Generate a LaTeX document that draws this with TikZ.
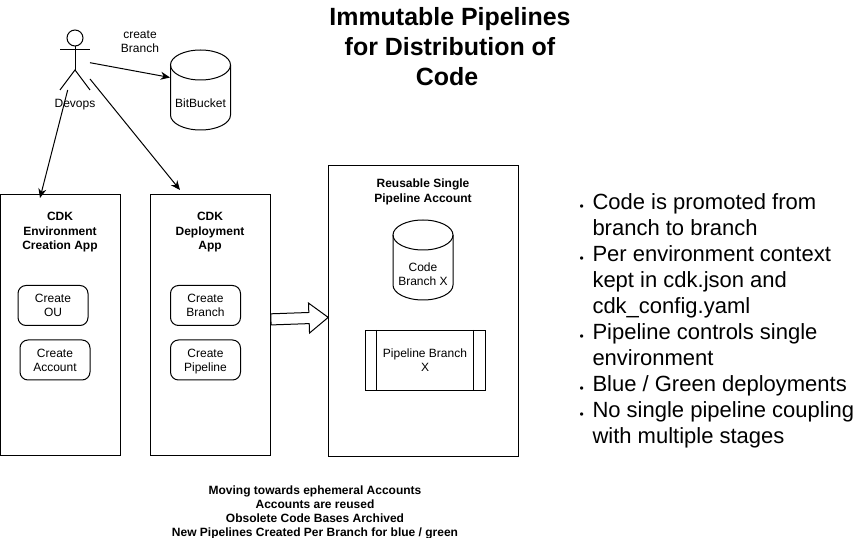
\documentclass[tikz,border=0pt]{standalone}
\usepackage{fontspec}
\setmainfont{Liberation Sans}
\usetikzlibrary{arrows.meta,shapes.arrows}

\begin{document}
\begin{tikzpicture}[
    x=0.75pt, y=-0.75pt, line width=0.75pt,
    app box/.style={draw, rectangle, inner sep=0pt},
    task box/.style={draw, rectangle, rounded corners=6pt, inner sep=0pt, minimum width=52.5pt, minimum height=30pt, align=center, font=\fontsize{9}{10.5}\selectfont},
    box title/.style={font=\fontsize{9}{10.9}\selectfont\bfseries, align=center},
    small text/.style={font=\fontsize{9}{10.5}\selectfont, align=center},
    flow/.style={-{Stealth[length=7pt,width=6pt]}},
    store/.pic={
        \draw (0,-25) ellipse (30 and 15);
        \draw (-30,-25) -- (-30,25) arc[start angle=180, end angle=0, x radius=30, y radius=15] -- (30,-25);
    }
]
\useasboundingbox (0,0) rectangle (861,538);

% Title
\node[font=\fontsize{18.7}{22.2}\selectfont\bfseries, align=center] (title) at (450,46.5) {Immutable Pipelines\\for Distribution of\\Code\hspace{4.5pt}\null};

% Actor
\draw (75,38) circle (8);
\draw (75,46) -- (75,70) (60,50) -- (90,50);
\draw (60,90) -- (75,70) -- (90,90);
\node[small text] (devops) at (75,104.5) {Devops};
\coordinate (actor top) at (90,62.7);
\coordinate (actor mid) at (90,79);
\coordinate (actor low) at (67.7,90);

\node[small text] (create branch) at (140,42) {create\\Branch};

% Repository
\pic at (200.5,90) {store};
\node[small text] (bitbucket) at (200.5,103) {BitBucket};

% Environment app
\node[app box, minimum width=90pt, minimum height=195pt] (env app) at (60.5,325) {};
\node[box title] (env title) at (60,232.5) {CDK\\Environment\\Creation App};
\node[task box] (create ou) at (53,305.5) {Create\\OU};
\node[task box] (create account) at (55,360) {Create\\Account};

% Deployment app
\node[app box, minimum width=90pt, minimum height=195pt] (deploy app) at (210.5,325) {};
\node[box title] (deploy title) at (210,232.5) {CDK\\Deployment\\App};
\node[task box] (create branch box) at (205.5,305.5) {Create\\Branch};
\node[task box] (create pipeline) at (205.5,360) {Create\\\raisebox{0pt}[\height][0pt]{Pipeline}};

% Pipeline account
\node[app box, minimum width=142.5pt, minimum height=217.5pt] (account) at (423,311) {};
\node[box title] (account title) at (423,192) {Reusable Single\\Pipeline Account};
\pic at (423,260) {store};
\node[small text] (code branch) at (423,274) {Code\\Branch X};
\node[draw, rectangle, minimum width=90pt, minimum height=45pt, inner sep=0pt, align=center, font=\fontsize{9}{10.5}\selectfont] (pipeline) at (425,360.5) {Pipeline Branch\\X};
\draw ([xshift=9pt]pipeline.north west) -- ([xshift=9pt]pipeline.south west);
\draw ([xshift=-9pt]pipeline.north east) -- ([xshift=-9pt]pipeline.south east);

% Fat arrow between the boxes
\node[draw, single arrow, rotate=2, fill=white, inner sep=3.75pt, minimum width=22.5pt, minimum height=43pt, single arrow tip angle=76, single arrow head extend=7pt] (promote) at (296,318.5) {};

% Connectors
\coordinate (bitbucket in) at (170,77.5);
\coordinate (env in) at (40,198);
\coordinate (deploy in) at (180,190);
\draw[flow] (actor top) -- (bitbucket in);
\draw[flow] (actor low) -- (env in);
\draw[flow] (actor mid) -- (deploy in);

% Footer
\node[font=\fontsize{9}{10.5}\selectfont\bfseries, align=center] (footer) at (315,512.5) {Moving towards ephemeral Accounts\\Accounts are reused\\Obsolete Code Bases Archived\\New Pipelines Created Per Branch for blue / green};

% Bullets
\newcommand{\blt}{\llap{\raisebox{-1pt}{\fontsize{9}{9}\selectfont •}\hspace{6.5pt}}}
\node[font=\fontsize{16.5}{19.5}\selectfont, align=left, anchor=north west, inner sep=0pt] (points) at (592,193) {\blt Code is promoted from\\branch to branch\\\blt Per environment context\\kept in cdk.json and\\cdk\_config.yaml\\\blt Pipeline controls single\\environment\\\blt Blue / Green deployments\\\blt No single pipeline coupling\\with multiple stages};
\end{tikzpicture}
\end{document}
